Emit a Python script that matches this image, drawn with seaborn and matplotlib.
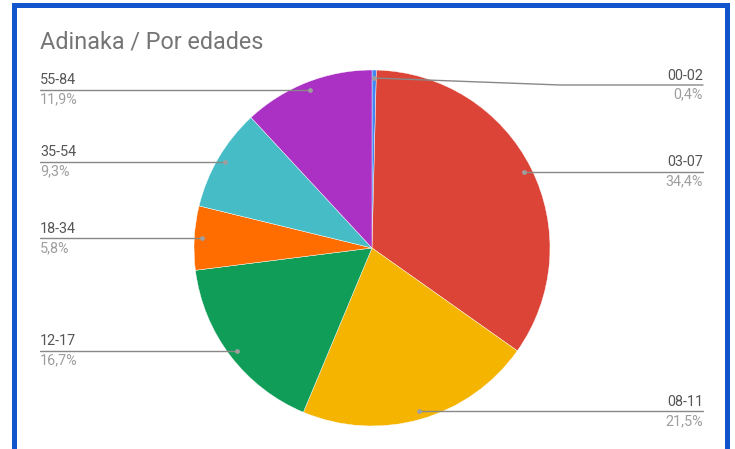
import numpy as np
import matplotlib
matplotlib.use("Agg")
import matplotlib.pyplot as plt
import seaborn as sns
from matplotlib.patches import Rectangle

# datos
edades = ["00-02", "03-07", "08-11", "12-17", "18-34", "35-54", "55-84"]
porcentajes = [0.4, 34.4, 21.5, 16.7, 5.8, 9.3, 11.9]
etiquetas_pct = ["0,4%", "34,4%", "21,5%", "16,7%", "5,8%", "9,3%", "11,9%"]
colores = ["#4285f4", "#db4437", "#f4b400", "#0f9d58", "#ff6d00", "#46bdc6", "#ab30c4"]
titulo = "Adinaka / Por edades"

sns.set_theme(style="white")
plt.rcParams["font.family"] = ["Roboto", "DejaVu Sans"]

W, H = 735, 449
R = 178.0          # radio en px
CX, CY = 372, 248  # centro en px (y desde arriba)

fig = plt.figure(figsize=(W / 100, H / 100), dpi=100)
ax = fig.add_axes([0, 0, 1, 1])

wedges, _ = ax.pie(porcentajes, colors=colores, startangle=90, counterclock=False,
                   radius=1, center=(0, 0), frame=True,
                   wedgeprops=dict(linewidth=0.3, edgecolor="white"))
ax.set_xlim(-CX / R, (W - CX) / R)
ax.set_ylim((CY - H) / R, CY / R)
ax.set_aspect("auto")
ax.axis("off")

x_izq = (40 - CX) / R
x_der = (703 - CX) / R
linea_c = "#9e9e9e"

for i, w in enumerate(wedges):
    ang = np.deg2rad((w.theta1 + w.theta2) / 2)
    px, py = 0.955 * np.cos(ang), 0.955 * np.sin(ang)
    if px < 0:
        xl, ha = x_izq, "left"
        ly = py
        ax.plot([xl, px], [ly, ly], color="#888888", lw=1, zorder=3)
    else:
        xl, ha = x_der, "right"
        if i == 0:
            ly = (CY - 85) / R
            xk = (560 - CX) / R
            ax.plot([px, xk, xl], [py, ly, ly], color="#888888", lw=1, zorder=3)
        else:
            ly = py
            ax.plot([px, xl], [ly, ly], color="#888888", lw=1, zorder=3)
    ax.scatter([px], [py], s=12, color=linea_c, zorder=4, linewidths=0)
    ax.text(xl, ly + 2.5 / R, edades[i], ha=ha, va="bottom", fontsize=10.4, color="#555555")
    ax.text(xl, ly - 2.5 / R, etiquetas_pct[i], ha=ha, va="top", fontsize=10.4, color="#9e9e9e")

fig.text(40 / W, 1 - 42 / H, titulo, ha="left", va="center", fontsize=16.8, color="#757575")

# marco azul
fig.patches.append(Rectangle((14.5 / W, -0.05), (727 - 14.5) / W, 1.05 - 5.5 / H,
                             transform=fig.transFigure, fill=False,
                             edgecolor="#1155cc", linewidth=3.6))

fig.savefig("out.png", dpi=100, facecolor="white")
